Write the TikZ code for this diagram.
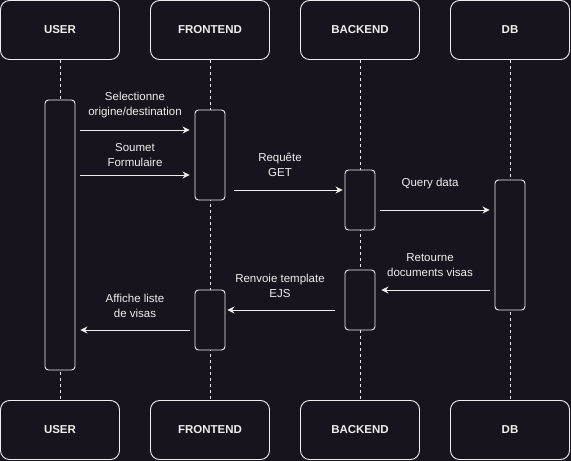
\documentclass[tikz,border=0pt]{standalone}
\usepackage{fontspec}
\setmainfont{Liberation Sans}
\usetikzlibrary{arrows.meta,positioning,calc}
\definecolor{bgdark}{RGB}{24,20,29}
\definecolor{inkwhite}{RGB}{238,238,238}

\begin{document}
\begin{tikzpicture}[x=1pt,y=-1pt,line width=0.9pt,
  actor/.style={draw=inkwhite,fill=bgdark,rounded corners=9pt,minimum width=119pt,minimum height=59pt,font=\fontsize{11.5}{14}\selectfont\bfseries,text=inkwhite},
  activ/.style={draw=inkwhite,fill=bgdark,rounded corners=3.5pt,minimum width=30pt,inner sep=0pt},
  msg/.style={draw=inkwhite,-{Stealth[length=7pt,width=7pt]}},
  lbl/.style={text=inkwhite,align=center,font=\fontsize{11.5}{14.5}\selectfont}]
  \fill[bgdark] (0,0) rectangle (571,461);
  \useasboundingbox (0,0) rectangle (571,461);
  \foreach \n/\x/\t in {us/60/USER,fe/210/FRONTEND,be/360/BACKEND,db/510/DB}
    {\node[actor] (\n top) at (\x,30) {\t}; \node[actor] (\n bot) at (\x,430) {\t};
     \draw[inkwhite,dash pattern=on 3pt off 3pt] (\n top) -- (\n bot);}
  \node[activ,minimum height=270pt] (usa) at (60,235) {};
  \node[activ,minimum height=90pt] (fe1) at (210,155) {};
  \node[activ,minimum height=60pt] (be1) at (360,200) {};
  \node[activ,minimum height=130pt] (db1) at (510,245) {};
  \node[activ,minimum height=60pt] (be2) at (360,300) {};
  \node[activ,minimum height=60pt] (fe2) at (210,320) {};
  \draw[msg,shorten <=5pt,shorten >=5pt] (usa.east |- 0,130) -- (fe1.west |- 0,130);
  \node[lbl] (m1) at (135,105) {Selectionne\\origine/destination};
  \draw[msg,shorten <=5pt,shorten >=5pt] (usa.east |- 0,175) -- (fe1.west |- 0,175);
  \node[lbl] (m2) at (135,155) {Soumet\\Formulaire};
  \draw[msg,shorten <=9pt,shorten >=2pt] (fe1.east |- 0,190) -- (be1.west |- 0,190);
  \node[lbl] (m3) at (280,165) {Requête\\GET};
  \draw[msg,shorten <=5pt,shorten >=5pt] (be1.east |- 0,210) -- (db1.west |- 0,210);
  \node[lbl] (m4) at (430,184) {Query data};
  \draw[msg,shorten <=5pt,shorten >=6pt] (db1.west |- 0,290) -- (be2.east |- 0,290);
  \node[lbl] (m5) at (430,265) {Retourne\\documents visas};
  \draw[msg,shorten <=10pt,shorten >=2pt] (be2.west |- 0,310) -- (fe2.east |- 0,310);
  \node[lbl] (m6) at (280,286) {Renvoie template\\EJS};
  \draw[msg,shorten <=5pt,shorten >=5pt] (fe2.west |- 0,330) -- (usa.east |- 0,330);
  \node[lbl] (m7) at (135,306) {Affiche liste\\de visas};
\end{tikzpicture}
\end{document}
